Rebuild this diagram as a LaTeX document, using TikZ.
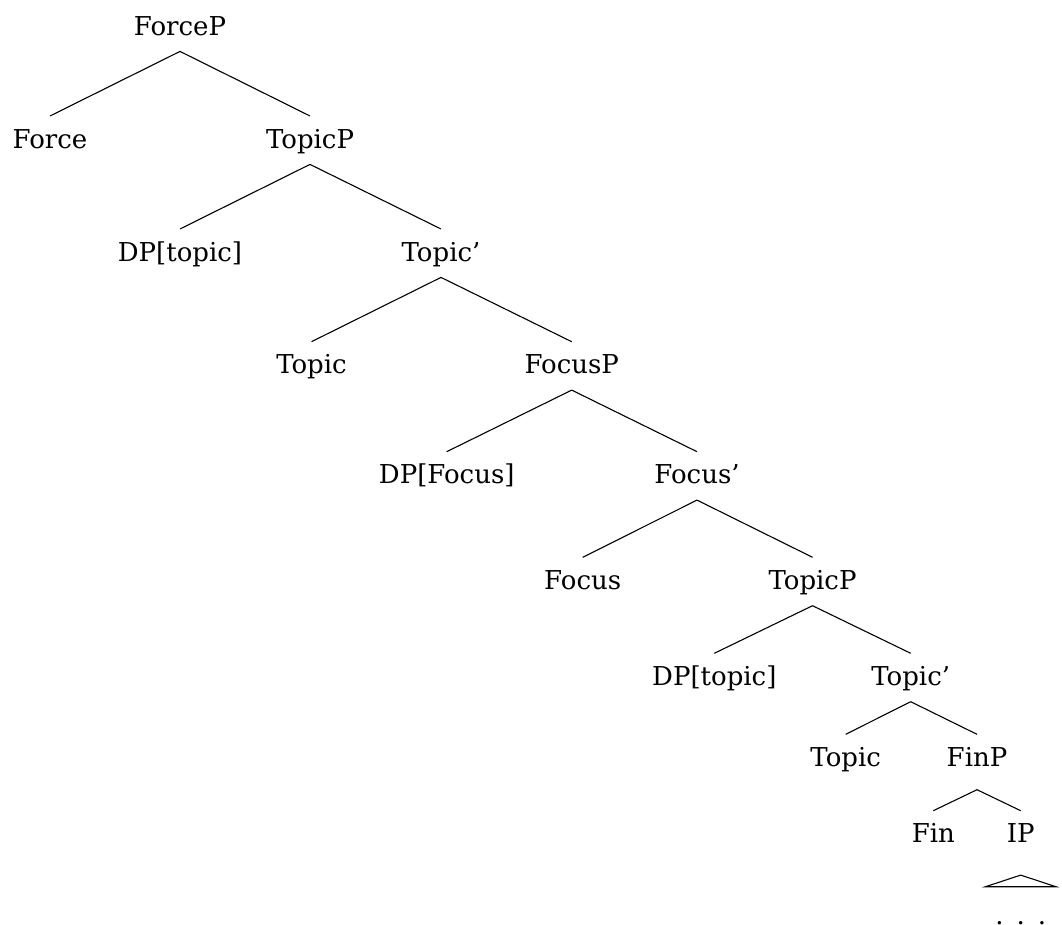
\documentclass[tikz,border=0pt]{standalone}
\usepackage{fontspec}
\setmainfont{DejaVu Serif}
\usetikzlibrary{positioning,calc}
\tikzset{
    tree node/.style = {
        anchor=north,
        inner xsep=0pt,
        inner ysep=14pt,
        text height=18pt,
        text depth=2pt,
        font=\fontsize{26}{31}\selectfont,
        },
    roof node/.style = {
        tree node,
        minimum width=70pt,
        inner ysep=0pt,
        text height=38pt,
        text depth=0pt,
        },
    tree edge/.style = {
        draw,
        line width=1.1pt,
        },
}

\begin{document}
\begin{tikzpicture}[x=1pt, y=-1pt]
    \useasboundingbox (0,0) rectangle (1062,925);

    \node[tree node] (forcep) at (180,3) {ForceP};
    \node[tree node] (force) at (50,116) {Force};
    \node[tree node] (topicp1) at (310,116) {TopicP};
    \node[tree node] (dptopic1) at (180,229) {DP[topic]};
    \node[tree node] (topicbar1) at (441,229) {Topic'};
    \node[tree node] (topic1) at (311.5,341.7) {Topic};
    \node[tree node] (focusp) at (571.7,341.7) {FocusP};
    \node[tree node] (dpfocus) at (446.7,451.7) {DP[Focus]};
    \node[tree node] (focusbar) at (697,451.7) {Focus'};
    \node[tree node] (focus) at (582.7,557.3) {Focus};
    \node[tree node] (topicp2) at (812.5,557.3) {TopicP};
    \node[tree node] (dptopic2) at (714.3,653.3) {DP[topic]};
    \node[tree node] (topicbar2) at (910.7,653.3) {Topic'};
    \node[tree node] (topic2) at (845.7,734.3) {Topic};
    \node[tree node, text depth=9pt] (finp) at (977,734.3) {FinP};
    \node[tree node] (fin) at (933.3,810.7) {Fin};
    \node[tree node, text depth=18pt] (ip) at (1020.7,810.7) {IP};
    \node[roof node] (dots) at (1020.7,886.7) {.\kern 13pt.\kern 13pt.};

    \draw[tree edge] (forcep.south) -- (force.north);
    \draw[tree edge] (forcep.south) -- (topicp1.north);
    \draw[tree edge] (topicp1.south) -- (dptopic1.north);
    \draw[tree edge] (topicp1.south) -- (topicbar1.north);
    \draw[tree edge] (topicbar1.south) -- (topic1.north);
    \draw[tree edge] (topicbar1.south) -- (focusp.north);
    \draw[tree edge] (focusp.south) -- (dpfocus.north);
    \draw[tree edge] (focusp.south) -- (focusbar.north);
    \draw[tree edge] (focusbar.south) -- (focus.north);
    \draw[tree edge] (focusbar.south) -- (topicp2.north);
    \draw[tree edge] (topicp2.south) -- (dptopic2.north);
    \draw[tree edge] (topicp2.south) -- (topicbar2.north);
    \draw[tree edge] (topicbar2.south) -- (topic2.north);
    \draw[tree edge] (topicbar2.south) -- (finp.north);
    \draw[tree edge] (finp.south) -- (fin.north);
    \draw[tree edge] (finp.south) -- (ip.north);
    % roof over IP
    \draw[tree edge] (ip.south) -- (dots.north west) -- (dots.north east) -- cycle;
\end{tikzpicture}
\end{document}
